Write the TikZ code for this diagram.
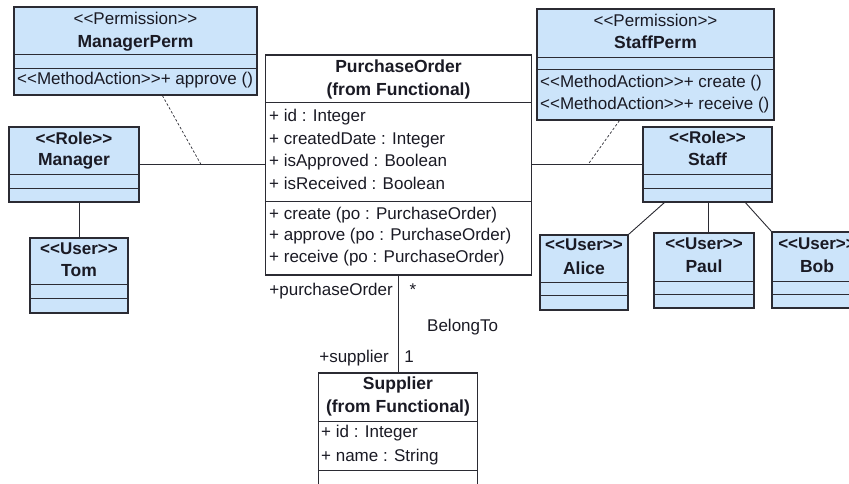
\documentclass[tikz,border=0pt]{standalone}
\usepackage{fontspec}
\setmainfont{Liberation Sans}
\usepackage{tikz}
\usetikzlibrary{positioning, calc}
\definecolor{azzurro}{HTML}{CCE4FA}
\definecolor{bordo}{HTML}{2B2B33}
\definecolor{inchiostro}{HTML}{1A1A24}
% parentesi degli stereotipi (due caratteri separati)
\newcommand{\apri}{\mbox{<}\mbox{<}}
\newcommand{\chiudi}{\mbox{>}\mbox{>}}
\tikzset{
	% classe UML (riquadro colorato)
	classe/.style={draw=bordo, line width=1.2pt, rectangle, fill=azzurro, inner sep=0pt},
	% classe del modello funzionale (bianca)
	classebianca/.style={classe, fill=white},
	% stereotipo
	stereo/.style={inner sep=0pt, anchor=mid, font=\fontsize{17}{19}\selectfont, text=inchiostro},
	% stereotipo in grassetto (ruoli e utenti)
	stereob/.style={stereo, font=\fontsize{17}{19}\selectfont\bfseries},
	% nome della classe
	titolo/.style={inner sep=0pt, anchor=mid, font=\fontsize{17.5}{19}\selectfont\bfseries, text=inchiostro},
	% voce (attributo o metodo)
	voce/.style={inner sep=0pt, anchor=mid west, font=\fontsize{17}{19}\selectfont, text=inchiostro},
	% linea di separazione dei compartimenti
	divisore/.style={draw=bordo, line width=0.9pt},
	% associazione
	assoc/.style={draw=bordo, line width=0.9pt},
	% legame tratteggiato
	tratto/.style={draw=bordo, line width=0.7pt, dash pattern=on 2.5pt off 2pt},
	% etichetta di associazione
	etich/.style={inner sep=0pt, anchor=mid, font=\fontsize{17}{19}\selectfont, text=inchiostro},
}

\begin{document}
\begin{tikzpicture}[x=1pt, y=-1pt]
    \useasboundingbox (0,0) rectangle (849,484);
    \clip (0,0) rectangle (849,484);

    % permessi
    \node[classe, minimum width=243, minimum height=88] (mperm) at (135.5,51) {};
    \node[stereo] (mpermst) at (135.5,22) {\apri Permission\chiudi};
    \node[titolo] (mpermnome) at (135.5,45) {ManagerPerm};
    \draw[divisore] (mperm.west |- 0,54) -- (mperm.east |- 0,54);
    \draw[divisore] (mperm.west |- 0,68) -- (mperm.east |- 0,68);
    \node[voce] (mpermop) at (17,82) {\apri MethodAction\chiudi+ approve ()};

    \node[classe, minimum width=237, minimum height=111] (sperm) at (655.5,64.5) {};
    \node[stereo] (spermst) at (655.5,24) {\apri Permission\chiudi};
    \node[titolo] (spermnome) at (655.5,46) {StaffPerm};
    \draw[divisore] (sperm.west |- 0,57) -- (sperm.east |- 0,57);
    \draw[divisore] (sperm.west |- 0,69) -- (sperm.east |- 0,69);
    \node[voce] (spermop1) at (540,85) {\apri MethodAction\chiudi+ create ()};
    \node[voce] (spermop2) at (540,107) {\apri MethodAction\chiudi+ receive ()};

    % ruoli
    \node[classe, minimum width=130, minimum height=75] (mgr) at (74,164.5) {};
    \node[stereob] (mgrst) at (74,142) {\apri Role\chiudi};
    \node[titolo] (mgrnome) at (74,163) {Manager};
    \draw[divisore] (mgr.west |- 0,174) -- (mgr.east |- 0,174);
    \draw[divisore] (mgr.west |- 0,188) -- (mgr.east |- 0,188);

    \node[classe, minimum width=129, minimum height=75] (staff) at (707.5,164.5) {};
    \node[stereob] (staffst) at (707.5,141) {\apri Role\chiudi};
    \node[titolo] (staffnome) at (707.5,163) {Staff};
    \draw[divisore] (staff.west |- 0,174) -- (staff.east |- 0,174);
    \draw[divisore] (staff.west |- 0,188) -- (staff.east |- 0,188);

    % utenti
    \node[classe, minimum width=98, minimum height=75] (tom) at (79,275.5) {};
    \node[stereob] (tomst) at (79,252) {\apri User\chiudi};
    \node[titolo] (tomnome) at (79,274) {Tom};
    \draw[divisore] (tom.west |- 0,284) -- (tom.east |- 0,284);
    \draw[divisore] (tom.west |- 0,298) -- (tom.east |- 0,298);

    \node[classe, minimum width=88, minimum height=75] (alice) at (584,272.5) {};
    \node[stereob] (alicest) at (584,248) {\apri User\chiudi};
    \node[titolo] (alicenome) at (584,272) {Alice};
    \draw[divisore] (alice.west |- 0,282) -- (alice.east |- 0,282);
    \draw[divisore] (alice.west |- 0,295) -- (alice.east |- 0,295);

    \node[classe, minimum width=100, minimum height=75] (paul) at (704,270.5) {};
    \node[stereob] (paulst) at (704,247) {\apri User\chiudi};
    \node[titolo] (paulnome) at (704,270) {Paul};
    \draw[divisore] (paul.west |- 0,281) -- (paul.east |- 0,281);
    \draw[divisore] (paul.west |- 0,294) -- (paul.east |- 0,294);

    \node[classe, minimum width=90, minimum height=76] (bob) at (817,270) {};
    \node[stereob] (bobst) at (817,247) {\apri User\chiudi};
    \node[titolo] (bobnome) at (817,270) {Bob};
    \draw[divisore] (bob.west |- 0,281) -- (bob.east |- 0,281);
    \draw[divisore] (bob.west |- 0,294) -- (bob.east |- 0,294);

    % classi funzionali
    \node[classebianca, minimum width=266, minimum height=220] (po) at (398.5,165) {};
    \node[titolo] (ponome) at (398.5,70) {PurchaseOrder};
    \node[titolo] (poorig) at (398.5,93) {(from Functional)};
    \draw[divisore] (po.west |- 0,102) -- (po.east |- 0,102);
    \node[voce] (poa1) at (269,119) {+ id : Integer};
    \node[voce] (poa2) at (269,142) {+ createdDate : Integer};
    \node[voce] (poa3) at (269,164) {+ isApproved : Boolean};
    \node[voce] (poa4) at (269,187) {+ isReceived : Boolean};
    \draw[divisore] (po.west |- 0,201) -- (po.east |- 0,201);
    \node[voce] (pom1) at (269,217) {+ create (po : PurchaseOrder)};
    \node[voce] (pom2) at (269,238) {+ approve (po : PurchaseOrder)};
    \node[voce] (pom3) at (269,260) {+ receive (po : PurchaseOrder)};

    \node[classebianca, minimum width=159, minimum height=124] (sup) at (398,435) {};
    \node[titolo] (supnome) at (398,387) {Supplier};
    \node[titolo] (suporig) at (398,410) {(from Functional)};
    \draw[divisore] (sup.west |- 0,421) -- (sup.east |- 0,421);
    \node[voce] (supa1) at (321,435) {+ id : Integer};
    \node[voce] (supa2) at (321,459) {+ name : String};
    \draw[divisore] (sup.west |- 0,470) -- (sup.east |- 0,470);

    % associazioni ruolo - classe
    \draw[assoc] (mgr.east) -- (mgr.east -| po.west);
    \coordinate (giuntom) at (201,164.5);
    \draw[tratto] ($(mperm.south west)+(149,0)$) -- (giuntom);
    \draw[assoc] (staff.west -| po.east) -- (staff.west);
    \coordinate (giunts) at (588,164.5);
    \draw[tratto] ($(sperm.south west)+(83,0)$) -- (giunts);

    % ruolo - utente
    \draw[assoc] (tom.north) -- (tom.north |- mgr.south);
    \draw[assoc] ($(staff.south west)+(22,0)$) -- (alice.north east);
    \coordinate (piedep) at ($(staff.south west)+(66,0)$);
    \draw[assoc] (piedep) -- (piedep |- paul.north);
    \draw[assoc] ($(staff.south west)+(103,0)$) -- (bob.north west);

    % BelongTo
    \draw[assoc] (po.south) -- (po.south |- sup.north);
    \node[etich, anchor=mid east] (ruolopo) at (393,293) {+purchaseOrder};
    \node[etich] (moltpo) at (413,293) {*};
    \node[etich, anchor=mid west] (nomeassoc) at (427,329) {BelongTo};
    \node[etich, anchor=mid east] (ruolosup) at (389,360) {+supplier};
    \node[etich] (moltsup) at (409,360) {1};
  \end{tikzpicture}
\end{document}
